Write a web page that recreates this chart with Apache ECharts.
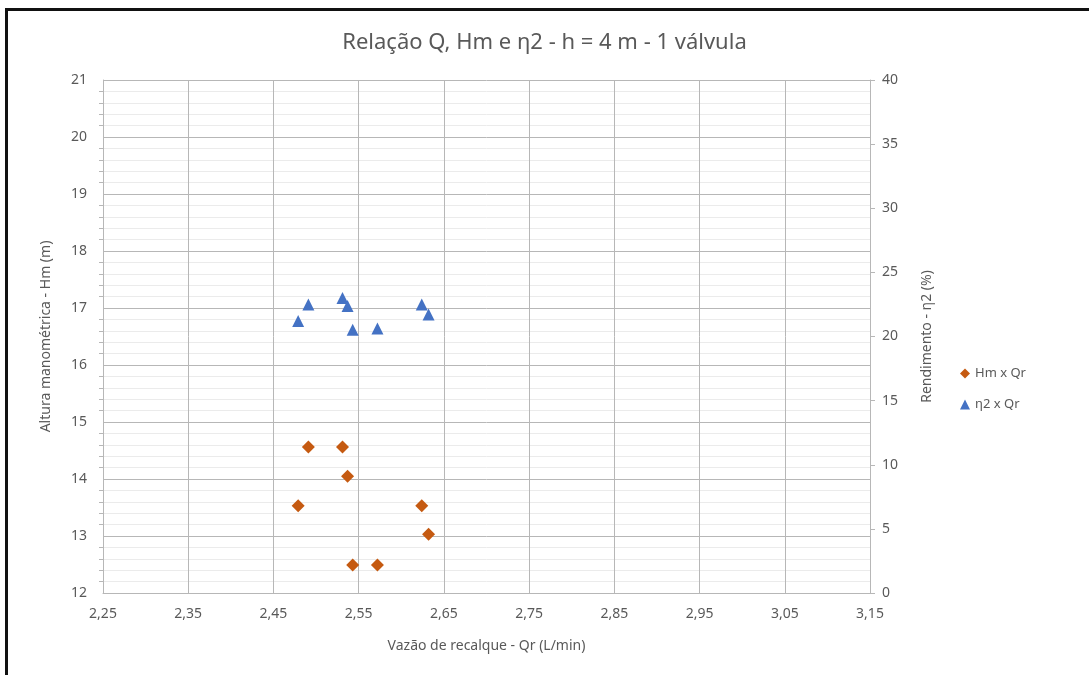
<!DOCTYPE html>
<html>
<head>
<meta charset="utf-8">
<title>Relação Q, Hm e η2</title>
<script src="https://cdn.jsdelivr.net/npm/echarts@6/dist/echarts.min.js"></script>
<style>
  html, body { margin: 0; padding: 0; background: #fff; }
  #chart { width: 1089px; height: 675px; }
  .frame {
    position: absolute; left: 5px; top: 8px; right: 0; bottom: 0;
    border-left: 3px solid #111; border-top: 3px solid #111;
    pointer-events: none;
  }
</style>
</head>
<body>
<div id="chart"></div>
<div class="frame"></div>
<script>
// vazão de recalque (L/min)
const vazao = [2.479, 2.491, 2.531, 2.537, 2.543, 2.572, 2.624, 2.632]
// altura manométrica (m)
const alturaHm = [13.53, 14.56, 14.56, 14.05, 12.49, 12.49, 13.53, 13.03]
// rendimento (%)
const rendimento = [21.2, 22.5, 23.0, 22.37, 20.52, 20.63, 22.5, 21.72]

const seriesNames = ['Hm x Qr', 'η2 x Qr']

const font = '"Noto Sans", "DejaVu Sans", sans-serif'
const txt = '#595959'

const chart = echarts.init(document.getElementById('chart'))

const option = {
  backgroundColor: '#fff',
  textStyle: { fontFamily: font },
  title: {
    text: 'Relação Q, Hm e η2 - h = 4 m - 1 válvula',
    left: 'center',
    top: 27,
    textStyle: { color: txt, fontSize: 22, fontWeight: 'normal', fontFamily: font }
  },
  grid: { left: 103, right: 219, top: 80, bottom: 82 },
  legend: {
    orient: 'vertical',
    left: 955,
    top: 362,
    itemGap: 18,
    itemWidth: 10,
    itemHeight: 10,
    textStyle: { color: txt, fontSize: 13, fontFamily: font },
    data: [
      { name: seriesNames[0], icon: 'diamond' },
      { name: seriesNames[1], icon: 'triangle' }
    ]
  },
  xAxis: {
    type: 'value',
    min: 2.25,
    max: 3.15,
    interval: 0.1,
    name: 'Vazão de recalque - Qr (L/min)',
    nameLocation: 'middle',
    nameGap: 46,
    nameTextStyle: { color: txt, fontSize: 14 },
    axisLine: { lineStyle: { color: '#b7b7b7', width: 1 } },
    axisTick: { show: false },
    axisLabel: {
      color: txt, fontSize: 14, margin: 14,
      formatter: v => v.toFixed(2).replace('.', ',')
    },
    splitLine: { show: true, lineStyle: { color: '#b7b7b7', width: 1 } }
  },
  yAxis: [
    {
      type: 'value',
      min: 12,
      max: 21,
      interval: 1,
      name: 'Altura manométrica - Hm (m)',
      nameLocation: 'middle',
      nameGap: 50,
      nameTextStyle: { color: txt, fontSize: 14 },
      axisLine: { show: true, lineStyle: { color: '#b7b7b7' } },
      axisTick: { show: false },
      minorTick: { show: true, splitNumber: 5, length: 4, lineStyle: { color: '#b7b7b7' } },
      axisLabel: { color: txt, fontSize: 14, margin: 16 },
      splitLine: { show: true, lineStyle: { color: '#b7b7b7' } },
      minorSplitLine: { show: true, lineStyle: { color: '#ebebeb' } }
    },
    {
      type: 'value',
      min: 0,
      max: 40,
      interval: 5,
      position: 'right',
      name: 'Rendimento - η2 (%)',
      nameLocation: 'middle',
      nameGap: 50,
      nameRotate: 90,
      nameTextStyle: { color: txt, fontSize: 14 },
      axisLine: { show: true, lineStyle: { color: '#b7b7b7' } },
      axisTick: { show: true, length: 5, lineStyle: { color: '#b7b7b7' } },
      axisLabel: { color: txt, fontSize: 14, margin: 12 },
      splitLine: { show: false }
    }
  ],
  series: [
    {
      name: seriesNames[0],
      type: 'scatter',
      yAxisIndex: 0,
      symbol: 'diamond',
      symbolSize: 13,
      itemStyle: { color: '#c55a11', opacity: 1 },
      data: vazao.map((q, i) => [q, alturaHm[i]])
    },
    {
      name: seriesNames[1],
      type: 'scatter',
      yAxisIndex: 1,
      symbol: 'triangle',
      symbolSize: 12,
      itemStyle: { color: '#4472c4', opacity: 1 },
      data: vazao.map((q, i) => [q, rendimento[i]])
    }
  ]
}

chart.setOption(option)
</script>
</body>
</html>
